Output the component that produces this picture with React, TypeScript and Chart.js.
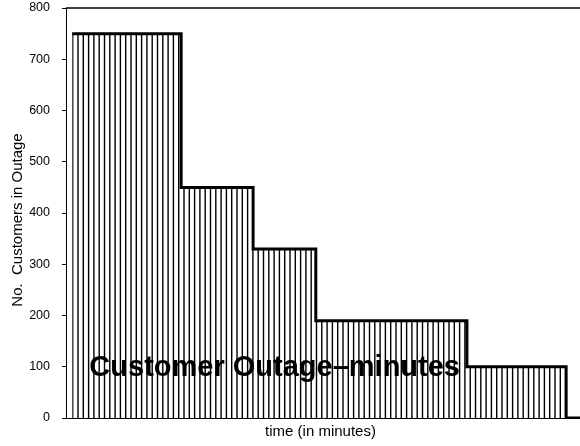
import React, { useEffect, useRef } from "react";
import { Chart, registerables } from "chart.js";

Chart.register(...registerables);

// Step edges (time, arbitrary minutes) and customers out during each step
const stepStarts = [1.2, 22.4, 36.4, 48.6, 78, 97.3, 100];
const customersOut = [750, 450, 330, 190, 100, 0, 0];
const yTicks = [0, 100, 200, 300, 400, 500, 600, 700, 800];
const yTitle = "No.  Customers in Outage";
const xTitle = "time (in minutes)";
const areaLabel = "Customer Outage\u2013minutes";

const FONT = "'Liberation Sans', Arial, Helvetica, sans-serif";

function makeHatch(): CanvasPattern | string {
  const period = 53; // 10 lines at 5.3px spacing
  const c = document.createElement("canvas");
  c.width = period;
  c.height = 4;
  const g = c.getContext("2d");
  if (!g) return "#000";
  const offset = 72 % period;
  g.fillStyle = "#000";
  for (let i = 0; i < 10; i++) {
    let x = (offset + i * 5.3) % period;
    g.fillRect(x, 0, 1.4, 4);
    if (x + 1.4 > period) g.fillRect(x - period, 0, 1.4, 4);
  }
  const p = g.createPattern(c, "repeat");
  return p || "#000";
}

export default function App() {
  const ref = useRef<HTMLCanvasElement | null>(null);

  useEffect(() => {
    document.body.style.margin = "0";
    const canvas = ref.current;
    if (!canvas) return;

    const overlay = {
      id: "overlay",
      afterDatasetsDraw(chart: any) {
        const { ctx, chartArea, scales } = chart;
        ctx.save();
        // top frame line
        ctx.strokeStyle = "#000";
        ctx.lineWidth = 1.5;
        ctx.beginPath();
        ctx.moveTo(chartArea.left, chartArea.top);
        ctx.lineTo(chartArea.right, chartArea.top);
        ctx.stroke();
        // area label
        ctx.fillStyle = "#000";
        ctx.font = `bold 29px ${FONT}`;
        ctx.textAlign = "center";
        ctx.textBaseline = "alphabetic";
        ctx.fillText(areaLabel, scales.x.getPixelForValue(40.6), scales.y.getPixelForValue(82));
        // axis titles
        ctx.font = `15px ${FONT}`;
        ctx.textBaseline = "middle";
        ctx.fillText(xTitle, (chartArea.left + 575) / 2, 432);
        ctx.translate(18, 220);
        ctx.rotate(-Math.PI / 2);
        ctx.fillText(yTitle, 0, 0);
        ctx.restore();
      },
    };

    const chart = new Chart(canvas, {
      type: "line",
      data: {
        datasets: [
          {
            data: stepStarts.map((x, i) => ({ x, y: customersOut[i] })),
            stepped: "before",
            borderColor: "#000",
            borderWidth: 3,
            pointRadius: 0,
            fill: "origin",
            backgroundColor: makeHatch() as any,
          },
        ],
      },
      options: {
        responsive: false,
        animation: false,
        layout: { padding: { top: 8, right: 0, left: 0, bottom: 0 } },
        plugins: { legend: { display: false }, tooltip: { enabled: false } },
        scales: {
          x: {
            type: "linear",
            min: 0,
            max: 100,
            ticks: { display: false },
            grid: { display: false },
            border: { display: true, color: "#000", width: 1 },
            afterFit: (s: any) => {
              s.height = 28;
              s.paddingLeft = 0;
              s.paddingRight = 0;
            },
          },
          y: {
            min: 0,
            max: 800,
            afterBuildTicks: (s: any) => {
              s.ticks = yTicks.map((v) => ({ value: v }));
            },
            ticks: {
              color: "#000",
              font: { family: FONT, size: 12.5 },
              padding: 12,
            },
            grid: {
              display: true,
              drawOnChartArea: false,
              drawTicks: true,
              tickLength: 4,
              color: "#000",
            },
            border: { display: true, color: "#000", width: 1 },
            afterFit: (s: any) => {
              s.width = 66;
              s.paddingTop = 0;
              s.paddingBottom = 0;
            },
          },
        },
      },
      plugins: [overlay],
    } as any);

    return () => chart.destroy();
  }, []);

  return <canvas ref={ref} width={580} height={446} style={{ display: "block" }} />;
}
